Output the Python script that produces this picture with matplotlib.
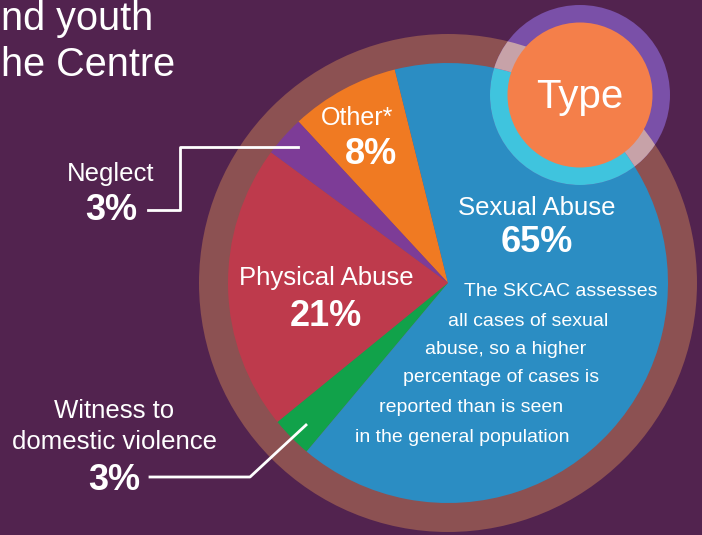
import matplotlib.pyplot as plt
from matplotlib.patches import Circle, Wedge

# pie data, listed counterclockwise from the Other/Sexual boundary
categories = ["Other*", "Neglect", "Physical Abuse", "Witness to domestic violence", "Sexual Abuse"]
shares = [8, 3, 21, 3, 65]
slice_colors = ["#F07A22", "#7D3C97", "#BE3A4C", "#11A24A", "#2B8DC3"]

note_lines = [
    "The SKCAC assesses",
    "all cases of sexual",
    "abuse, so a higher",
    "percentage of cases is",
    "reported than is seen",
    "in the general population",
]

bg = "#52234F"
ring_color = "#8C5152"
W, H = 702, 535
cx, cy = 448, H - 283
r_pie, r_ring = 220, 249

fig = plt.figure(figsize=(W / 100, H / 100), dpi=100)
fig.patch.set_facecolor(bg)
ax = fig.add_axes([0, 0, 1, 1])
ax.set_facecolor(bg)

# outer brown ring
ax.add_patch(Circle((cx, cy), r_ring, color=ring_color, lw=0))

ax.pie(shares, colors=slice_colors, center=(cx, cy), radius=r_pie,
       startangle=104, counterclock=True, wedgeprops=dict(linewidth=0))

# "Type" badge
tx, ty = 580, H - 95
ax.add_patch(Wedge((tx, ty), 90, 0, 360, width=19, color="#7A50A8", lw=0, zorder=5))
cyan = Wedge((tx, ty), 90, 0, 360, width=19, color="#3FC4DE", lw=0, zorder=6)
ax.add_patch(cyan)
cyan.set_clip_path(Circle((cx, cy), r_pie, transform=ax.transData))
pink = Wedge((tx, ty), 90, 0, 360, width=19, color="#C7A2A8", lw=0, zorder=6)
ax.add_patch(pink)
pink.set_clip_path(Wedge((cx, cy), r_ring, 0, 360, width=r_ring - r_pie, transform=ax.transData))
ax.add_patch(Circle((tx, ty), 72.5, color="#F47F4A", lw=0, zorder=7))
ax.text(tx, ty - 2, "Type", color="white", fontsize=29, ha="center", va="center",
        family="Liberation Sans", zorder=8)

font = "Liberation Sans"
def label(x, y, s, size=18.5, bold=False):
    ax.text(x, H - y, s, color="white", fontsize=size, ha="center", va="center",
            family=font, fontweight="bold" if bold else "normal", zorder=9)

label(357, 118, "Other*", 18)
label(371, 154, "8%", 26, True)
label(537, 208, "Sexual Abuse")
label(537, 242, "65%", 26, True)
label(326, 278, "Physical Abuse")
label(326, 316, "21%", 26, True)
label(111, 174, "Neglect")
label(111, 210, "3%", 26, True)
label(114, 411, "Witness to")
label(114, 442, "domestic violence")
label(114, 481, "3%", 26, True)

# explanatory note inside the blue slice
note_x = [464, 448, 425, 403, 379, 355]
note_y = [291, 322, 350, 378, 408, 437]
for x, y, s in zip(note_x, note_y, note_lines):
    ax.text(x, H - y, s, color="white", fontsize=14, ha="left", va="center",
            family=font, zorder=9)

# leader lines
ax.plot([148, 180, 180, 298], [H - 210, H - 210, H - 147, H - 147], color="white", lw=2, zorder=9)
ax.plot([150, 250, 306], [H - 477, H - 477, H - 425], color="white", lw=2, zorder=9)

# cropped heading
ax.text(1, H - 19, "nd youth", color="white", fontsize=28.5, ha="left", va="center", family=font)
ax.text(1, H - 65, "he Centre", color="white", fontsize=28.5, ha="left", va="center", family=font)

ax.set_xlim(0, W)
ax.set_ylim(0, H)
ax.set_aspect("equal")
ax.axis("off")
fig.savefig("out.png", dpi=100, facecolor=bg)
